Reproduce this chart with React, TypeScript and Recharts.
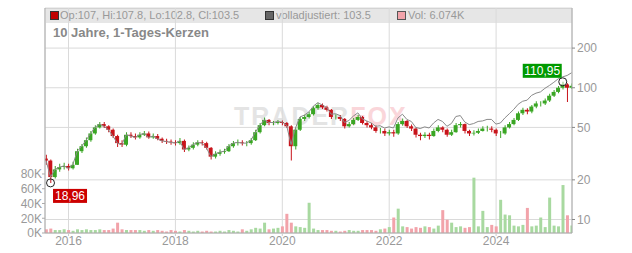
import React from "react";
import {
  ComposedChart,
  Bar,
  Line,
  XAxis,
  YAxis,
  CartesianGrid,
  Cell,
  ReferenceDot,
} from "recharts";

// monthly candles, first one around Aug 2015
const START = 2015.58;
const FIRST_OPEN = 29;

const closes = [
  28, 21, 24, 25, 25.5, 24.5, 26, 33, 36, 40,
  45, 50, 53, 51, 48, 43, 38, 37, 44, 43,
  42, 44, 45, 42, 43, 41, 39.5, 39, 38.5, 38,
  39.5, 34, 35, 37, 38.5, 38, 35, 30, 31.5, 32.5,
  33, 36, 38, 38.5, 38, 38, 40, 46, 52, 57,
  54, 54, 55, 54, 51, 36, 48, 58, 60, 63,
  70, 74, 71, 68, 60, 60, 58, 51, 53, 57,
  60, 54, 52, 50, 47, 47, 45, 46, 45, 53,
  56, 51, 49, 44, 43, 44, 43, 47, 50, 48,
  44, 46, 52, 53, 47, 45, 45.5, 47, 49, 49,
  48, 45, 45, 50, 53, 57, 64, 68, 66, 72,
  76, 76, 80, 87, 93, 100, 106, 100, 103.5,
];

const highs = [
  31, 28.5, 25.5, 26.5, 27, 26.5, 27.5, 34.5, 37.5, 42,
  47, 52, 55, 55, 52, 49, 44, 40, 46, 46,
  45, 46, 47, 46.5, 45, 44.5, 42, 41, 40.5, 40,
  41.5, 40.5, 36.5, 38.5, 40, 40, 39, 35.5, 33, 34,
  34.5, 37.5, 39.5, 40.5, 40, 39.5, 41.5, 48, 54, 59.5,
  58, 56, 57, 56.5, 55, 52, 50, 60, 62.5, 65.5,
  72.5, 77, 76, 73, 69, 63, 62, 59, 55, 59,
  62.5, 61, 56, 54, 52, 49.5, 49, 48, 48, 55,
  58.5, 57, 52.5, 50, 45.5, 46, 45.5, 49, 52, 51,
  49, 48, 54, 55, 53.5, 48, 47.5, 49, 51, 51.5,
  51, 49, 47, 52, 55, 59, 66, 70.5, 70, 74,
  79, 79, 83, 90, 96, 103, 110.95, 108, 107.8,
];

const lows = [
  26, 18.96, 20.5, 23, 24, 23.5, 24, 26, 32, 35,
  39, 44, 49, 49.5, 46, 41.5, 35.5, 35.5, 36, 41.5,
  40.5, 41, 43, 41, 41, 40, 38, 37.5, 37, 36.5,
  37, 32.5, 33, 34, 36, 36.5, 34, 28.5, 29, 30.5,
  31.5, 32.5, 35, 36.5, 36.5, 36, 37, 39.5, 45, 51,
  52, 52, 52.5, 52, 49.5, 28, 34, 47, 56, 58.5,
  61.5, 68, 69, 66, 58, 57.5, 56, 49, 50, 52,
  56, 52.5, 50, 48.5, 45.5, 45, 43, 43.5, 42.5, 44,
  51.5, 49.5, 47, 42, 40, 41.5, 40.5, 42.5, 46, 46,
  42.5, 43, 45.5, 50, 45, 43, 43.5, 44.5, 46.5, 46.5,
  46, 43, 41.5, 44, 49, 52, 56, 62, 63, 64,
  70, 72, 74, 78, 85, 91, 97, 78, 98,
];

// "volladjustiert" line, sits on the candles until 2020
const adjusted = [
  28, 21, 24, 25, 25.5, 24.5, 26, 33, 36, 40,
  45, 50, 53, 51, 48, 43, 38, 37, 44, 43,
  42, 44, 45, 42, 43, 41, 39.5, 39, 38.5, 38,
  39.5, 34, 35, 37, 38.5, 38, 35, 30, 31.5, 32.5,
  33, 36, 38, 38.5, 38, 38, 40, 46, 52, 57,
  54.5, 54.5, 55.5, 55, 52, 37, 49.5, 60, 62, 65.5,
  72.5, 77, 74, 71, 63, 63.5, 61.5, 54.5, 56.5, 61,
  64.5, 58, 56, 54, 51, 51.5, 49.5, 50.5, 49.5, 59,
  63, 57.5, 55.5, 50, 49, 50.5, 49.5, 54, 57.5, 55.5,
  51, 53.5, 60.5, 61.5, 55, 52.5, 53.5, 55.5, 56, 57.5,
  57.5, 53, 54, 59, 63.5, 68.5, 75, 79, 80.5, 87.5,
  91, 93, 99, 104, 110, 117, 121, 124, 130,
];

// volume in thousands
const volumesK = [
  5, 6, 4, 4, 5, 4, 3, 5, 4, 5, 4, 4,
  5, 4, 4, 6, 14, 5, 4, 4, 4, 4, 3, 4,
  3, 4, 3, 2, 4, 3, 2, 4, 3, 2, 3, 2,
  3, 2, 2, 3, 2, 4, 3, 2, 5, 3, 5, 7,
  6, 14, 5, 6, 7, 9, 26, 14, 9, 8, 7, 41,
  6, 4, 4, 4, 3, 3, 2, 3, 4, 3, 3, 4,
  4, 4, 3, 5, 6, 8, 21, 33, 9, 8, 6, 8,
  7, 9, 8, 6, 10, 31, 18, 14, 8, 9, 7, 8,
  75, 9, 30, 8, 11, 9, 45, 25, 24, 10, 9, 11,
  34, 9, 10, 21, 8, 48, 10, 9, 65, 24, 10,
];

const yearTicks = [2016, 2018, 2020, 2022, 2024];
const priceTicks = [10, 20, 50, 100, 200];
const volumeTicks = [0, 20000, 40000, 60000, 80000];

const X_DOMAIN = [2015.56, 2025.42];
const RED = "#c8141b";
const GREEN = "#3aa624";
const VOL_RED = "#f2a3aa";
const VOL_GREEN = "#a8d9a0";
const FONT = "'Liberation Sans', Arial, sans-serif";

const data = closes.map((c, i) => {
  const o = i === 0 ? FIRST_OPEN : closes[i - 1];
  return {
    t: START + i / 12,
    wick: [lows[i], highs[i]],
    body: [Math.min(o, c), Math.max(o, c)],
    adj: adjusted[i],
    vol: volumesK[i] * 1000,
    up: c >= o,
  };
});

const minIdx = 1;
const maxIdx = 116;

const tickStyle = { fill: "#999", fontSize: 12, fontFamily: FONT };

function YearTick(props: any) {
  const { x, y, payload } = props;
  return (
    <text x={x} y={y + 9} textAnchor="middle" fill="#999" fontSize={12} fontFamily={FONT}>
      {payload.value}
    </text>
  );
}

function MinMarker(props: any) {
  const { cx, cy } = props;
  return (
    <g>
      <circle cx={cx} cy={cy} r={4} fill="none" stroke="#222" strokeWidth={1} />
      <rect x={cx + 2.5} y={cy + 6} width={34} height={14} fill="#cc0000" />
      <text
        x={cx + 19.5}
        y={cy + 17.5}
        textAnchor="middle"
        fill="#fff"
        fontSize={12}
        fontFamily={FONT}
      >
        18,96
      </text>
    </g>
  );
}

function MaxMarker(props: any) {
  const { cx, cy } = props;
  return (
    <g>
      <circle cx={cx} cy={cy} r={4} fill="#fff" fillOpacity={0.4} stroke="#222" strokeWidth={1} />
      <rect x={cx - 40} y={cy - 18} width={39} height={14} fill="#009a00" />
      <text
        x={cx - 20.5}
        y={cy - 6.5}
        textAnchor="middle"
        fill="#fff"
        fontSize={12}
        fontFamily={FONT}
      >
        110,95
      </text>
    </g>
  );
}

function Square({ x, color, border }: { x: number; color: string; border: string }) {
  return (
    <div
      style={{
        position: "absolute",
        left: x,
        top: 11,
        width: 7,
        height: 7,
        background: color,
        border: `1px solid ${border}`,
      }}
    />
  );
}

function Label({ x, text }: { x: number; text: string }) {
  return (
    <div
      style={{
        position: "absolute",
        left: x,
        top: 8,
        lineHeight: "15px",
        fontSize: 11,
        color: "#999",
        whiteSpace: "nowrap",
      }}
    >
      {text}
    </div>
  );
}

export default function App() {
  return (
    <div
      style={{
        position: "absolute",
        left: 0,
        top: 0,
        width: 632,
        height: 253,
        fontFamily: FONT,
        background: "#fff",
      }}
    >
      {/* underlay: frame, header strip, title, watermark */}
      <div
        style={{
          position: "absolute",
          left: 45,
          top: 8,
          width: 527,
          height: 225,
          borderTop: "1px solid #ccc",
          boxSizing: "border-box",
        }}
      />
      <div
        style={{
          position: "absolute",
          left: 46,
          top: 9,
          width: 526,
          height: 14,
          background: "#e6e6e6",
        }}
      />
      <Square x={50} color="#c00000" border="#333" />
      <Label x={60} text="Op:107, Hi:107.8, Lo:102.8, Cl:103.5" />
      <Square x={265} color="#666" border="#333" />
      <Label x={276} text="volladjustiert: 103.5" />
      <Square x={397} color="#f2a3aa" border="#555" />
      <Label x={408} text="Vol: 6.074K" />
      <div
        style={{
          position: "absolute",
          left: 53,
          top: 25,
          fontSize: 13,
          fontWeight: "bold",
          color: "#888",
          whiteSpace: "nowrap",
        }}
      >
        10 Jahre, 1-Tages-Kerzen
      </div>
      <div
        style={{
          position: "absolute",
          left: 234,
          top: 102,
          fontSize: 25,
          fontWeight: "bold",
          letterSpacing: 2,
          whiteSpace: "nowrap",
        }}
      >
        <span style={{ color: "#e4e4e4" }}>TRADER</span>
        <span style={{ color: "#fad6da" }}>FOX</span>
      </div>

      <div style={{ position: "absolute", left: 0, top: 0 }}>
        <ComposedChart
          width={632}
          height={253}
          data={data}
          margin={{ top: 8, right: 0, bottom: 0, left: 0 }}
        >
          <CartesianGrid
            xAxisId="main"
            yAxisId="price"
            stroke="#dadada"
            strokeDasharray=""
          />
          <XAxis
            xAxisId="main"
            dataKey="t"
            type="number"
            domain={X_DOMAIN}
            ticks={yearTicks}
            allowDataOverflow
            height={20}
            tick={<YearTick />}
            tickSize={3}
            tickMargin={0}
            axisLine={{ stroke: "#aaa" }}
            tickLine={{ stroke: "#ccc" }}
          />
          <XAxis
            xAxisId="body"
            orientation="top"
            height={0}
            dataKey="t"
            type="number"
            domain={X_DOMAIN}
            allowDataOverflow
            hide
          />
          <XAxis
            xAxisId="vol"
            orientation="top"
            height={0}
            dataKey="t"
            type="number"
            domain={X_DOMAIN}
            allowDataOverflow
            hide
          />
          <YAxis
            yAxisId="vol"
            orientation="left"
            width={45}
            domain={[0, 305000]}
            ticks={volumeTicks}
            interval={0}
            allowDataOverflow
            tickFormatter={(v: number) => `${v / 1000}K`}
            tick={tickStyle}
            tickSize={3}
            tickMargin={0}
            axisLine={{ stroke: "#aaa" }}
            tickLine={{ stroke: "#aaa" }}
          />
          <YAxis
            yAxisId="price"
            orientation="right"
            width={60}
            scale="log"
            domain={[7.9, 403]}
            ticks={priceTicks}
            interval={0}
            allowDataOverflow
            tick={tickStyle}
            tickSize={3}
            tickMargin={2}
            axisLine={{ stroke: "#aaa" }}
            tickLine={{ stroke: "#888" }}
          />

          <Bar xAxisId="vol" yAxisId="vol" dataKey="vol" barSize={3} isAnimationActive={false}>
            {data.map((d, i) => (
              <Cell key={`v-${i}`} fill={d.up ? VOL_GREEN : VOL_RED} />
            ))}
          </Bar>
          <Line
            xAxisId="main"
            yAxisId="price"
            dataKey="adj"
            stroke="#8a8a8a"
            strokeWidth={1}
            dot={false}
            isAnimationActive={false}
          />
          <Bar xAxisId="main" yAxisId="price" dataKey="wick" barSize={1} isAnimationActive={false}>
            {data.map((d, i) => (
              <Cell key={`w-${i}`} fill={d.up ? GREEN : RED} />
            ))}
          </Bar>
          <Bar xAxisId="body" yAxisId="price" dataKey="body" barSize={4} isAnimationActive={false}>
            {data.map((d, i) => (
              <Cell key={`b-${i}`} fill={d.up ? GREEN : RED} />
            ))}
          </Bar>

          <ReferenceDot
            xAxisId="main"
            yAxisId="price"
            x={data[minIdx].t}
            y={18.96}
            r={4}
            shape={MinMarker}
          />
          <ReferenceDot
            xAxisId="main"
            yAxisId="price"
            x={data[maxIdx].t}
            y={110.95}
            r={4}
            shape={MaxMarker}
          />
        </ComposedChart>
      </div>
    </div>
  );
}
